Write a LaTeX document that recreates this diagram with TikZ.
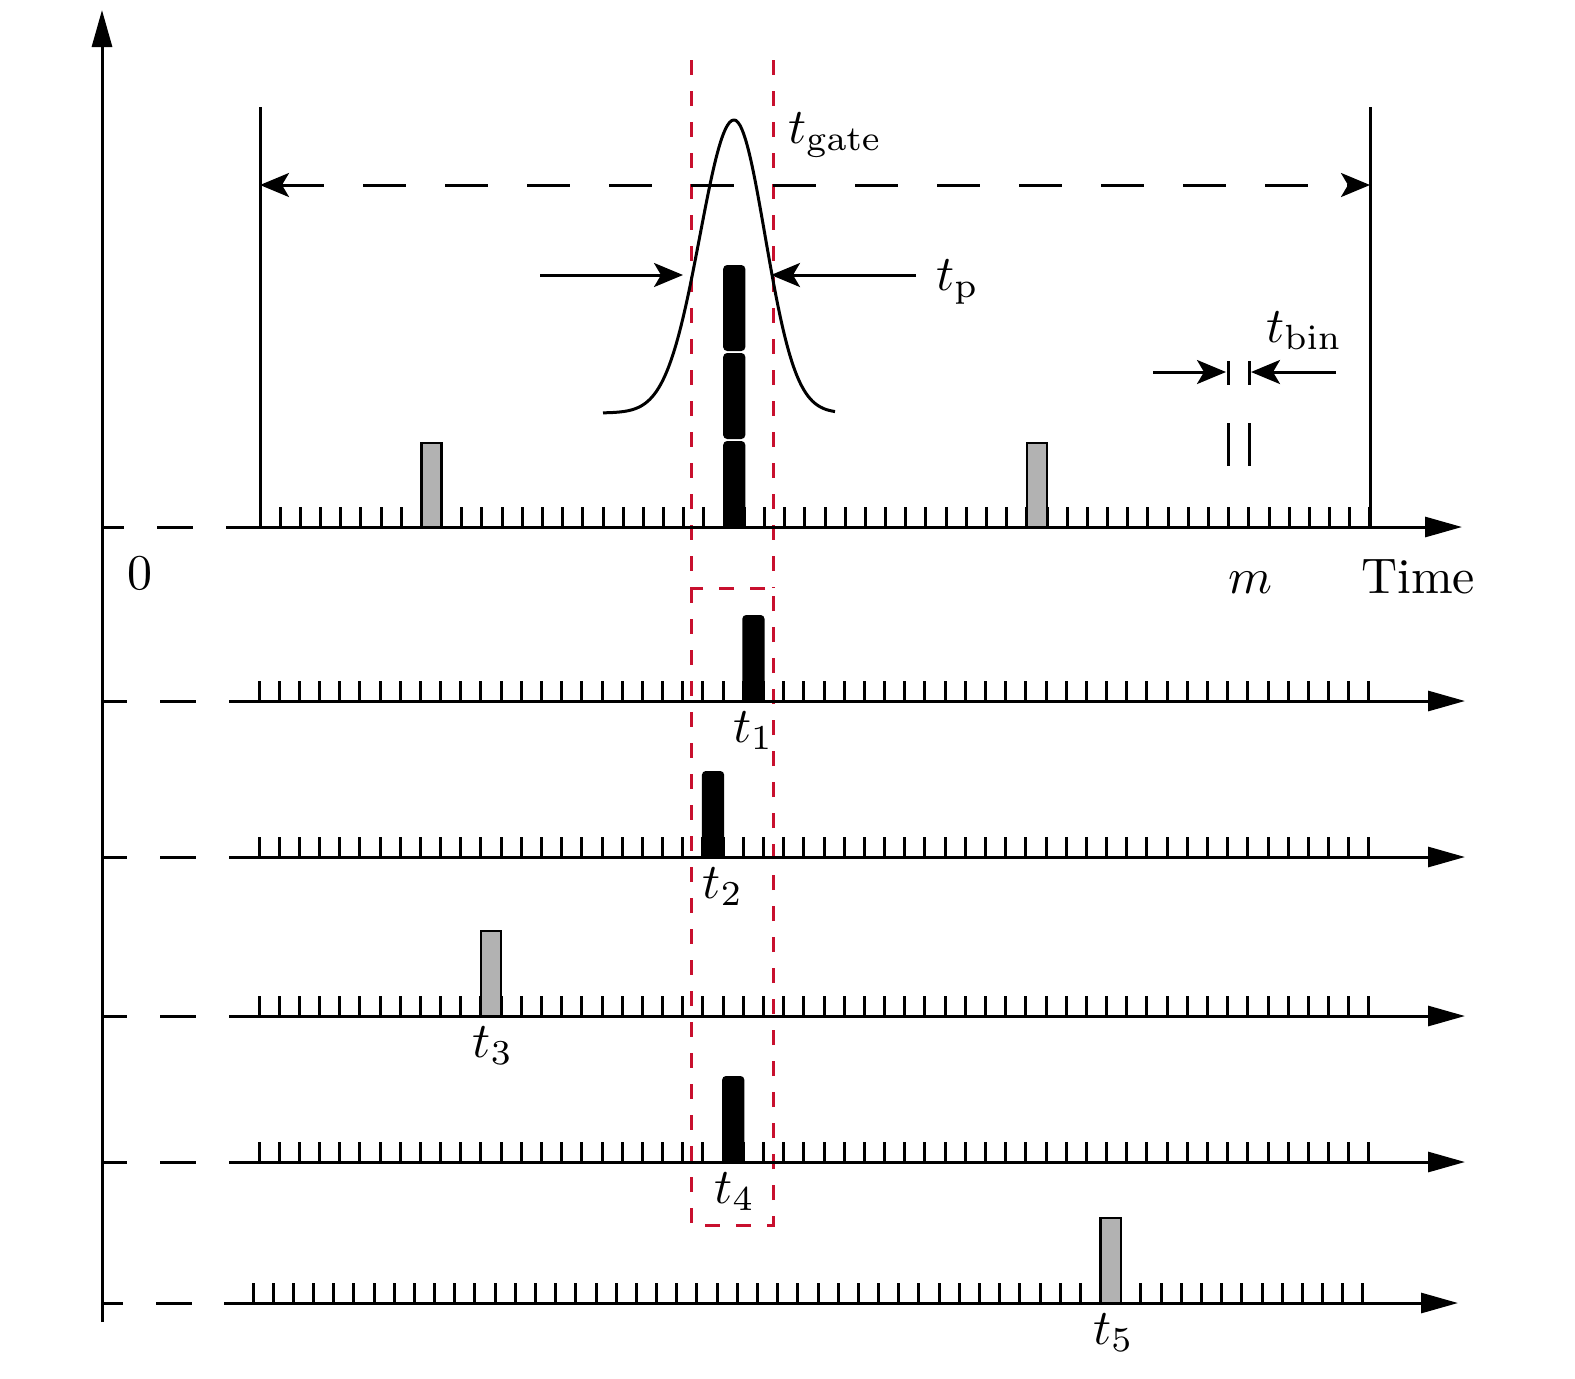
\documentclass[tikz,border=0pt]{standalone}
\usepackage{amsmath}
\usepackage{tikz}
\usetikzlibrary{arrows.meta}
\definecolor{gatered}{RGB}{200,16,46}

\begin{document}
\begin{tikzpicture}[x=0.5pt,y=-0.5pt,line width=1.5pt,
  every node/.style={scale=2.5},
  axis/.style={-{Triangle[length=18.5pt,width=10pt]}},
  dim/.style={-{Stealth[length=14.5pt,width=12pt,inset=3.5pt]}},
  span/.style={{Stealth[length=14.5pt,width=12pt,inset=3.5pt]}-{Stealth[length=14.5pt,width=12pt,inset=3.5pt]},dash pattern=on 21.5pt off 19.5pt},
  gate/.style={gatered,dash pattern=on 7.5pt off 8pt},
  lead/.style={dash pattern=on 18pt off 16.5pt},
  graybar/.style={draw=black,fill=black!30,line width=1.2pt},
  blackbar/.style={draw=black,fill=black,line width=1pt,rounded corners=1.5pt}]
\useasboundingbox (0,0) rectangle (1575,1378);

% gate window
\draw[gate] (691,60) -- (691,588) (773,60) -- (773,588);
\draw[gate] (691,588) rectangle (773,1225);

% time axis
\draw[axis] (102,1322) -- (102,10);
\foreach \y/\xs/\s/\tip/\ph in {527/227/260/1462/7, 701/230/259/1465/5.5,
    857/230/259/1465/5.5, 1016/230/259/1465/5.5, 1162/230/259/1465/5.5,
    1303/224/253/1458/7.5}{
  \draw[lead,dash phase=\ph pt] (102,\y) -- (\xs,\y);
  \draw[axis] (\xs,\y) -- (\tip,\y);
  \foreach \k in {0,...,55}
    \draw ({\s+\k*20.18},\y) -- ++(0,-20);
}

% first period
\coordinate (gL) at (260,185);
\coordinate (gR) at (1370,185);
\draw (260,527) -- (260,107);
\draw (1370,527) -- (1370,107);
\draw[span] (gL) -- (gR);
\foreach \k in {8,38}
  \draw[graybar] ({260+\k*20.18},527) rectangle ++(20.18,-84);
\foreach \i in {0,1,2}
  \fill[black,rounded corners=2pt] ({260+23*20.18-1},{527-88*\i}) rectangle ++(22.2,-86);

% pulse
\draw plot[domain=-131:0,samples=60,smooth] ({734+\x},{413-293*exp(-0.5*(\x/34)^2)})
  -- plot[domain=0:101,samples=50,smooth] ({734+\x},{413-293*exp(-0.5*(\x/31)^2)});
\coordinate (tpL) at (540,275);
\coordinate (tpLtip) at (683,275);
\coordinate (tpR) at (916,275);
\coordinate (tpRtip) at (771,275);
\draw[dim] (tpL) -- (tpLtip);
\draw[dim] (tpR) -- (tpRtip);
\node[anchor=base west] (tp) at (916,290) {$t_\mathrm{p}$};
\node[anchor=base west] (tgate) at (768,143) {$t_\mathrm{gate}$};

% one bin
\coordinate (bL) at (1153,372);
\coordinate (bLtip) at (1226,372);
\coordinate (bR) at (1336,372);
\coordinate (bRtip) at (1251,372);
\draw[dim] (bL) -- (bLtip);
\draw[dim] (bR) -- (bRtip);
\draw (1228,361) -- (1228,385) (1249,361) -- (1249,385);
\draw (1228,423) -- (1228,466) (1249,423) -- (1249,466);
\node[anchor=base west] (tbin) at (1246,342) {$t_\mathrm{bin}$};

\node[anchor=base] (zero) at (140,589) {0};
\node[anchor=base] (m) at (1250,593) {$m$};
\node[anchor=base] (time) at (1418,593) {Time};

% photon arrivals
\foreach \y/\s/\k/\n/\c/\dx in {701/259/24/1/blackbar/0, 857/259/22/2/blackbar/2,
    1016/259/11/3/graybar/0.4, 1162/259/23/4/blackbar/0.3, 1303/253/42/5/graybar/0.6}{
  \draw[\c] ({\s+\k*20.18},\y) rectangle ++(20.18,-85);
  \node[below,xshift=\dx pt,yshift=2pt] (t\n) at ({\s+(\k+0.5)*20.18},\y) {$t_\n$};
}
\end{tikzpicture}
\end{document}
